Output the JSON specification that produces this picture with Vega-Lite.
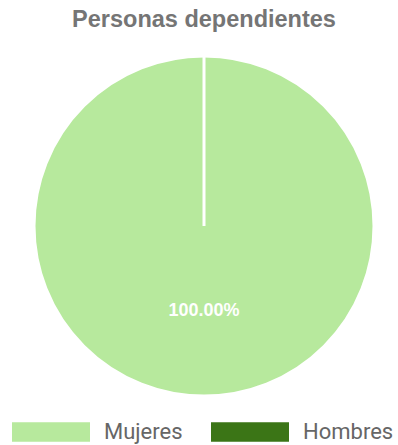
{
  "$schema": "https://vega.github.io/schema/vega-lite/v6.json",
  "width": 340,
  "height": 340,
  "autosize": "none",
  "padding": {"left": 34, "right": 24, "top": 56, "bottom": 49},
  "background": "white",
  "title": {
    "text": "Personas dependientes",
    "fontSize": 23.5,
    "font": "Liberation Sans",
    "fontWeight": "bold",
    "color": "#757575",
    "offset": 19
  },
  "data": {
    "values": [
      {"sexo": "Mujeres", "valor": 100, "pct": "100.00%"},
      {"sexo": "Hombres", "valor": 0, "pct": "0.00%"}
    ]
  },
  "encoding": {
    "theta": {"field": "valor", "type": "quantitative", "stack": true},
    "order": {"field": "valor", "type": "quantitative", "sort": "ascending"}
  },
  "layer": [
    {
      "mark": {"type": "arc", "radius": 170, "stroke": "white", "strokeWidth": 3},
      "encoding": {
        "color": {
          "field": "sexo",
          "type": "nominal",
          "scale": {"domain": ["Mujeres", "Hombres"], "range": ["#b7e99d", "#3b7516"]},
          "legend": {
            "orient": "none",
            "legendX": -22,
            "legendY": 337,
            "direction": "horizontal",
            "title": null,
            "symbolType": "M-1,-0.25H1V0.25H-1Z",
            "symbolSize": 6084,
            "symbolStrokeWidth": 0,
            "labelFontSize": 22,
            "labelFont": "Roboto",
            "labelColor": "#666666",
            "labelOffset": 14,
            "columnPadding": 28
          }
        }
      }
    },
    {
      "transform": [{"filter": "datum.valor > 0"}],
      "mark": {"type": "text", "radius": 85, "color": "white", "fontSize": 18, "fontWeight": "bold", "font": "Liberation Sans"},
      "encoding": {"text": {"field": "pct"}}
    }
  ]
}
